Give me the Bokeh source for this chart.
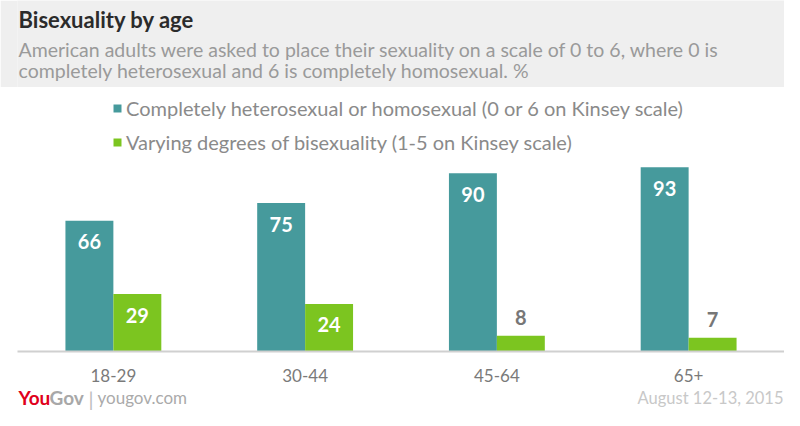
from bokeh.plotting import figure
from bokeh.models import ColumnDataSource, Range1d, FactorRange, Label, Legend
from bokeh.transform import dodge
from bokeh.layouts import column
from bokeh.embed import file_html
from bokeh.resources import INLINE
from bokeh.core.properties import value

# ---- data ----
categories = ["18-29", "30-44", "45-64", "65+"]
exclusive = [66, 75, 90, 93]   # Completely heterosexual or homosexual (0 or 6)
bisexual = [29, 24, 8, 7]      # Varying degrees of bisexuality (1-5)
series_names = ["Completely heterosexual or homosexual (0 or 6 on Kinsey scale)",
                "Varying degrees of bisexuality (1-5 on Kinsey scale)"]
title_text = "Bisexuality by age"
subtitle_lines = ["American adults were asked to place their sexuality on a scale of 0 to 6, where 0 is",
                  "completely heterosexual and 6 is completely homosexual. %"]
date_text = "August 12-13, 2015"

TEAL = "#469a9c"
GREEN = "#7cc520"
FONT = "Lato"
W = 784
TOTAL_H = 410
LEFT = 17  # shared left border (column layout aligns frames)

def blank_fig(h, bg):
    f = figure(width=W, height=h, x_range=Range1d(LEFT, W), y_range=Range1d(0, h),
               output_backend="svg", toolbar_location=None, title=None,
               min_border=0, min_border_left=LEFT, min_border_right=0,
               min_border_top=0, min_border_bottom=0)
    f.axis.visible = False
    f.grid.visible = False
    f.outline_line_color = None
    f.background_fill_color = bg
    f.border_fill_color = bg
    return f

# ---- header ----
HH = 87
SHIFT = 8
TX = 18
header = blank_fig(HH, "#efefef")
header.add_layout(Label(x=TX, y=HH - 27 + SHIFT, text=title_text, text_font=FONT, text_font_style="bold",
                        text_font_size="22px", text_color="#2b2b2b", text_baseline="alphabetic"))
header.add_layout(Label(x=TX, y=HH - 57 + SHIFT, text=subtitle_lines[0], text_font=FONT,
                        text_font_size="19.5px", text_color="#9a9a9a", text_baseline="alphabetic"))
header.add_layout(Label(x=TX, y=HH - 78 + SHIFT, text=subtitle_lines[1], text_font=FONT,
                        text_font_size="19.5px", text_color="#9a9a9a", text_baseline="alphabetic"))

# ---- main chart ----
MH = 300
FRAME_H = 264
PX_PER_UNIT = 1.98

def label_props(vals):
    offs, cols = [], []
    for v in vals:
        if v >= 15:
            offs.append(21); cols.append("white")
        else:
            offs.append(-18); cols.append("#777777")
    return offs, cols

off_e, col_e = label_props(exclusive)
off_b, col_b = label_props(bisexual)
src = ColumnDataSource(dict(cat=categories, exc=exclusive, bis=bisexual,
                            exc_txt=[str(v) for v in exclusive], bis_txt=[str(v) for v in bisexual],
                            off_e=off_e, col_e=col_e, off_b=off_b, col_b=col_b))

p = figure(width=W, height=MH, x_range=FactorRange(factors=categories, range_padding=0),
           y_range=Range1d(0, FRAME_H / PX_PER_UNIT),
           output_backend="svg", toolbar_location=None, title=None,
           min_border_left=LEFT, min_border_right=0, min_border_top=0, min_border_bottom=MH - FRAME_H)
p.outline_line_color = None
p.grid.visible = False
p.yaxis.visible = False
p.xaxis.axis_line_color = "#d0d0d0"
p.xaxis.axis_line_width = 2
p.xaxis.major_tick_line_color = None
p.xaxis.minor_tick_line_color = None
p.xaxis.major_label_text_font = FONT
p.xaxis.major_label_text_font_size = "17px"
p.xaxis.major_label_text_color = "#7a7a7a"
p.xaxis.major_label_standoff = 11

r1 = p.vbar(x=dodge("cat", -0.125, range=p.x_range), top="exc", width=0.25, source=src,
            fill_color=TEAL, line_color=None)
r2 = p.vbar(x=dodge("cat", 0.125, range=p.x_range), top="bis", width=0.25, source=src,
            fill_color=GREEN, line_color=None)

p.text(x=dodge("cat", -0.125, range=p.x_range), y="exc", text="exc_txt", source=src,
       y_offset="off_e", text_color="col_e", text_align="center", text_baseline="middle",
       text_font=value(FONT), text_font_style="bold", text_font_size="20px")
p.text(x=dodge("cat", 0.125, range=p.x_range), y="bis", text="bis_txt", source=src,
       y_offset="off_b", text_color="col_b", text_align="center", text_baseline="middle",
       text_font=value(FONT), text_font_style="bold", text_font_size="20px")

legend = Legend(items=[(series_names[0], [r1]), (series_names[1], [r2])],
                location=(95, 197), orientation="vertical",
                glyph_width=10, glyph_height=10, label_height=20, spacing=10,
                label_standoff=4, padding=0, margin=0,
                label_text_font=FONT, label_text_font_size="20px", label_text_color="#8a8a8a",
                border_line_color=None, background_fill_alpha=0)
p.add_layout(legend, "center")

# ---- footer ----
FH = TOTAL_H - HH - MH
footer = blank_fig(FH, "white")
BASE = 13
footer.add_layout(Label(x=18, y=BASE, text="You", text_font=FONT, text_font_style="bold",
                        text_font_size="19px", text_color="#e0001b", text_baseline="alphabetic"))
footer.add_layout(Label(x=49, y=BASE, text="Gov", text_font=FONT, text_font_style="bold",
                        text_font_size="19px", text_color="#a8a8a8", text_baseline="alphabetic"))
footer.add_layout(Label(x=88, y=BASE - 1, text="|", text_font=FONT,
                        text_font_size="20px", text_color="#bbbbbb", text_baseline="alphabetic"))
footer.add_layout(Label(x=97, y=BASE, text="yougov.com", text_font=FONT,
                        text_font_size="17px", text_color="#aaaaaa", text_baseline="alphabetic"))
footer.add_layout(Label(x=783, y=BASE, text=date_text, text_font=FONT,
                        text_font_size="16.5px", text_color="#c8c8c8", text_baseline="alphabetic",
                        text_align="right"))

layout = column(header, p, footer, spacing=0)
open("out.html", "w").write(file_html(layout, INLINE))
